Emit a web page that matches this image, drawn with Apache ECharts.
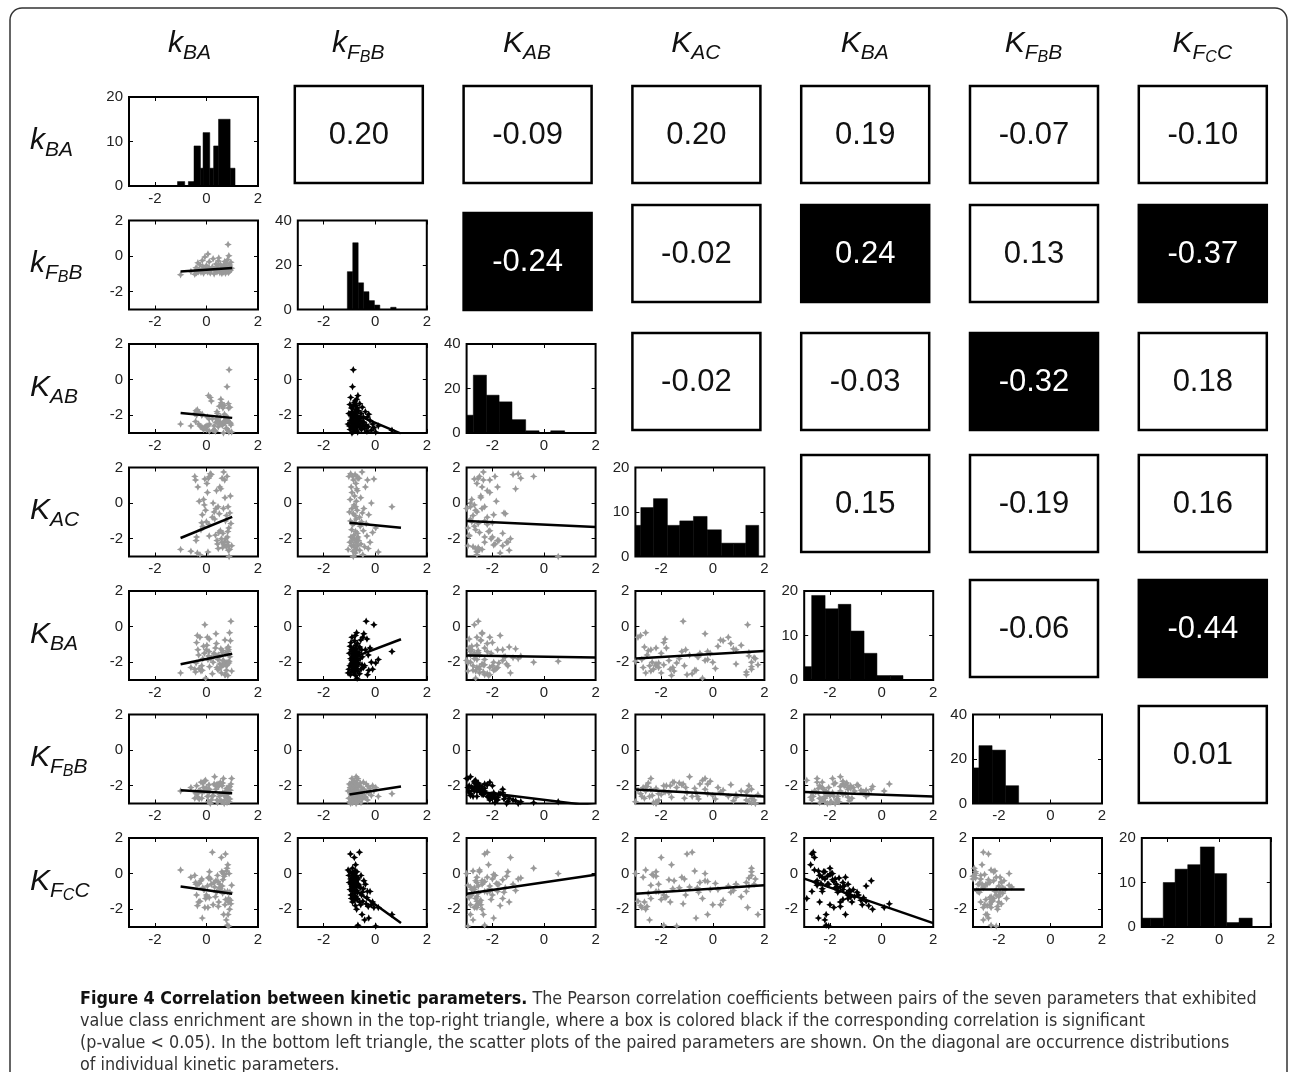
<!DOCTYPE html>
<html><head><meta charset="utf-8">
<script src="https://cdn.jsdelivr.net/npm/echarts@6.0.0/dist/echarts.min.js"></script>
<style>html,body{margin:0;padding:0;background:#fff}#c{width:1290px;height:1072px}</style>
</head><body><div id="c"></div>
<script>
// ---------------- DATA ----------------
const paramNames = ['k_BA', 'k_FBB', 'K_AB', 'K_AC', 'K_BA', 'K_FBB', 'K_FCC'];
const paramLabels = ['{m|k}{s|BA}', '{m|k}{s|F}{ss|B}{s|B}', '{m|K}{s|AB}', '{m|K}{s|AC}', '{m|K}{s|BA}', '{m|K}{s|F}{ss|B}{s|B}', '{m|K}{s|F}{ss|C}{s|C}'];

// per-sample parameter values (log10 scale), index-aligned samples
const kBA = [-1.0,-0.45,0.3,0.6,-0.11,0.74,0.15,-0.38,0.52,0.86,-0.21,0.04,0.66,0.41,-0.3,0.8,0.1,
  -0.6,0.5,0.88,-0.42,0.35,0.7,-0.08,0.58,0.93,-0.18,0.63,0.19,0.78,-0.35,0.45,0.83,0.02,0.69,0.32,-0.28,0.9,0.56,0.12,0.75,-0.03,0.64,0.39,0.98,0.08,0.81,
  -0.4,0.61,0.23,0.85,-0.14,0.72,0.43,0.0,0.67,0.91,-0.25,0.54,
  0.37,0.77,-0.33,0.95,0.11,0.71,0.46,-0.16, 0.82,0.26,0.48,-0.06, 0.87,0.06, 0.84];
const kFBB = [-1.05,-1.02,-1.0,-0.98,-0.97,-0.96,-0.95,-0.94,-0.93,-0.92,-0.91,-0.9,-0.9,-0.89,-0.88,-0.88,-0.87,
  -0.86,-0.85,-0.85,-0.84,-0.83,-0.83,-0.82,-0.81,-0.8,-0.8,-0.79,-0.78,-0.78,-0.77,-0.76,-0.76,-0.75,-0.74,-0.74,-0.73,-0.72,-0.72,-0.71,-0.7,-0.7,-0.69,-0.69,-0.68,-0.67,-0.67,
  -0.65,-0.63,-0.61,-0.6,-0.58,-0.56,-0.55,-0.53,-0.51,-0.5,-0.48,-0.46,
  -0.44,-0.41,-0.38,-0.35,-0.32,-0.3,-0.27,-0.25, -0.2,-0.15,-0.1,-0.05, 0.02,0.12, 0.65];
const KAB = [-2.5,-1.9,-2.6,-1.4,-2.8,-2.3,-1.0,-2.0,-2.4,-1.6,-2.65,-2.1,-3.0,-1.8,-2.5,-0.4,-2.2,
  -2.6,-1.5,0.55,-2.35,-2.9,-1.95,-2.7,-1.3,-2.45,-2.0,-2.55,-1.2,-2.75,-1.7,-2.3,-2.15,-2.6,-1.45,-2.85,-1.85,-2.4,-1.1,-2.5,-2.05,-2.65,-1.6,-2.2,-2.95,-0.9,-2.3,
  -1.75,-2.55,-2.2,-1.35,-2.7,-2.45,-1.9,-2.8,-2.35,-1.55,-2.6,-2.1,
  -2.4,-2.75,-1.8,-2.55,-2.9,-2.1,-2.65,-1.95, -2.3,-2.85,-2.5,-2.7, -2.95,-2.6, -2.85];
const KAC = [-2.6,1.5,-0.5,-2.2,0.2,-1.0,1.65,-1.9,0.9,-2.4,-1.5,0.6,-0.3,-2.1,-3.1,1.5,-1.2,
  -2.7,-0.6,-3.0,1.3,-1.8,-2.35,-0.1,-2.0,0.4,-1.1,-2.5,1.6,-0.7,-2.8,-0.2,-1.6,1.1,-2.2,-0.9,0.1,-2.6,0.8,1.5,-2.0,-0.4,-1.7,0.7,-2.4,1.4,-1.9,
  -2.1,1.4,-0.8,-2.65,-1.3,0.3,-2.3,-1.05,1.75,-0.55,-2.9,-1.55,
  -0.3,-2.45,0.9,-1.15,-1.85,1.3,-2.55,-0.65, -2.2,0.0,-1.65,1.35, -1.4,-2.75, -0.2];
const KBA = [-2.6,-2.4,-1.5,-2.2,-1.1,-2.7,-1.8,-0.9,-2.1,-1.3,-2.5,-0.6,-1.9,-2.3,-1.6,-2.0,-1.4,
  -2.3,-1.7,-1.95,-2.55,-1.2,-2.0,-1.5,-2.6,-0.8,-2.2,-1.35,-1.75,-2.45,-0.5,-1.85,-2.75,-1.05,-2.1,-1.6,-2.35,-0.35,-1.25,-2.25,-1.5,-2.9,-1.9,-0.95,-2.5,-1.65,-2.15,
  -2.05,-1.45,-2.65,-1.15,-1.8,-0.75,-2.4,-1.3,-2.15,-1.7,-0.6,-2.3,
  -0.4,-2.2,-1.3,0.3,-0.7,-2.7,-1.6,-2.45, -1.2,-2.0,-2.4,0.1, -2.05,-1.85, -1.4];
const KFBB = [-2.3,-2.7,-1.9,-2.9,-2.1,-2.4,-3.0,-2.0,-2.5,-2.2,-1.8,-2.6,-1.6,-2.8,-2.3,-2.95,-1.95,
  -2.1,-2.6,-2.9,-2.35,-2.0,-2.55,-1.75,-3.05,-2.25,-2.7,-1.85,-2.8,-2.15,-2.45,-1.9,-2.65,-2.3,-3.0,-1.5,-2.75,-2.05,-2.85,-2.2,-2.5,-1.7,-2.4,-1.95,-1.6,-2.9,-2.3,
  -2.45,-2.0,-2.6,-2.7,-1.85,-2.35,-2.95,-2.1,-2.5,-2.75,-2.25,-1.8,
  -2.2,-2.6,-2.65,-1.9,-2.35,-2.8,-2.05,-2.4, -2.15,-2.55,-2.0,-2.3, -2.1,-2.6, -2.45];
const KFCC = [0.2,-0.1,-0.5,0.1,-0.9,1.1,-0.3,-1.2,-0.6,-1.4,-0.4,-0.7,0.0,-1.0,-1.6,0.3,-0.2,
  -0.2,-0.8,0.0,-0.5,-1.3,-0.05,-0.9,0.9,-1.5,-0.3,-1.1,-0.6,0.15,-1.8,-0.45,0.5,-1.3,-0.15,-0.75,-0.55,-2.0,-0.95,0.1,-1.45,-1.4,-0.35,-1.05,-0.65,-0.25,-2.9,
  -0.6,-0.7,1.2,-1.6,-0.8,-1.75,-0.1,-1.2,-2.3,-1.05,-1.55,-0.85,
  -0.4,-2.6,-0.6,-1.7,-1.35,-1.0,-1.85,-2.5, -1.0,-1.75,-1.6,-1.9, -2.95,-1.9, -2.3];

// histogram bin edges and counts (diagonal)
const histEdges_kBA = [-1.12,-0.84,-0.70,-0.48,-0.23,-0.13,0.13,0.28,0.47,0.92,1.11];
const histCounts_kBA = [1,0,1,9,4,12,4,9,15,4];
const histEdges_kFBB = [-1.08,-0.87,-0.66,-0.45,-0.24,-0.03,0.18,0.39,0.60,0.81];
const histCounts_kFBB = [17,30,12,8,4,2,0,0,1];
const histEdges_KAB = [-3,-2.74,-2.23,-1.74,-1.24,-0.71,-0.19,0.26,0.80];
const histCounts_KAB = [8,26,17,14,6,1,0,1];
const histEdges_KAC = [-3,-2.79,-2.30,-1.76,-1.28,-0.75,-0.22,0.33,0.80,1.28,1.78];
const histCounts_KAC = [7,11,13,7,8,9,6,3,3,7];
const histEdges_KBA = [-3,-2.71,-2.19,-1.68,-1.19,-0.68,-0.18,0.34,0.83];
const histCounts_KBA = [3,19,16,17,11,6,1,1];
const histEdges_KFBB = [-3,-2.77,-2.26,-1.74,-1.23];
const histCounts_KFBB = [16,26,24,8];
const histEdges_KFCC = [-3,-2.67,-2.17,-1.71,-1.22,-0.73,-0.19,0.29,0.77,1.28];
const histCounts_KFCC = [2,2,10,13,14,18,12,1,2];
const histYMax = [20,40,40,20,20,40,20];

// regression line: x range per parameter, y at start/end for each lower-triangle pair (row-major)
const fitXMin = [-1,-1,-3,-3,-3,-3,-3];
const fitXMax = [1,1,2,2,2,-1,2];
const fitYStart = [-0.87,-1.88,-1.81,-1.96,-1.10,-1.01,-2.11,-1.81,-1.62,-1.79,-2.26,-2.49,-2.26,-2.22,-2.35,-0.72,-0.70,-1.13,-1.13,-0.28,-0.89];
const fitYEnd = [-0.67,-2.15,-3.03,-0.77,-1.38,-1.34,-1.53,-0.71,-1.73,-1.37,-2.42,-2.04,-3.15,-2.60,-2.60,-1.13,-2.78,-0.06,-0.66,-2.78,-0.89];

// Pearson correlations, upper triangle row-major, and significance (p < 0.05)
const corrValues = [0.20,-0.09,0.20,0.19,-0.07,-0.10, -0.24,-0.02,0.24,0.13,-0.37, -0.02,-0.03,-0.32,0.18, 0.15,-0.19,0.16, -0.06,-0.44, 0.01];
const corrSignificant = [0,0,0,0,0,0, 1,0,1,0,1, 0,0,1,0, 0,0,0, 0,1, 0];

const axisTicks = [-2, 0, 2];

// ---------------- LAYOUT ----------------
const samples = [kBA, kFBB, KAB, KAC, KBA, KFBB, KFCC];
const histEdges = [histEdges_kBA, histEdges_kFBB, histEdges_KAB, histEdges_KAC, histEdges_KBA, histEdges_KFBB, histEdges_KFCC];
const histCounts = [histCounts_kBA, histCounts_kFBB, histCounts_KAB, histCounts_KAC, histCounts_KBA, histCounts_KFBB, histCounts_KFCC];

const LEFT0 = 129, COLSTEP = 168.8, TOP0 = 97, ROWSTEP = 123.5, PW = 129, PH = 89;
const BOX_TOPS = [86, 205, 333, 455, 580, 706];
const FONT = "'Liberation Sans', Arial, Helvetica, sans-serif";
const CAP_FONT = "'Liberation Sans Narrow', 'DejaVu Sans Condensed', 'Liberation Sans', sans-serif";

const grids = [], xAxes = [], yAxes = [], series = [];
const tickStyle = {show: true, inside: true, length: 4, lineStyle: {color: '#000', width: 1}};
const labelStyle = {fontFamily: FONT, fontSize: 15, color: '#222'};
const noLine = {show: false, onZero: false};

function addPlot(i, j, yMax) {
  const gi = grids.length;
  grids.push({left: LEFT0 + COLSTEP * j, top: TOP0 + ROWSTEP * i, width: PW, height: PH,
    show: true, borderColor: '#000', borderWidth: 2, backgroundColor: '#fff', containLabel: false, outerBoundsMode: 'none'});
  const xi = xAxes.length;
  xAxes.push({gridIndex: gi, type: 'value', min: -3, max: 2, position: 'bottom',
    axisLine: noLine, splitLine: {show: false},
    axisTick: Object.assign({}, tickStyle, {customValues: axisTicks}),
    axisLabel: Object.assign({}, labelStyle, {margin: 5, customValues: axisTicks})});
  xAxes.push({gridIndex: gi, type: 'value', min: -3, max: 2, position: 'top',
    axisLine: noLine, splitLine: {show: false},
    axisTick: Object.assign({}, tickStyle, {customValues: axisTicks}), axisLabel: {show: false}});
  const yi = yAxes.length;
  let yOpt;
  if (yMax) {
    yOpt = {min: 0, max: yMax, interval: yMax / 2};
  } else {
    yOpt = {min: -3, max: 2};
  }
  const yTick = yMax ? Object.assign({}, tickStyle) : Object.assign({}, tickStyle, {customValues: axisTicks});
  const yLab = yMax ? Object.assign({}, labelStyle, {margin: 6}) : Object.assign({}, labelStyle, {margin: 6, customValues: axisTicks});
  yAxes.push(Object.assign({gridIndex: gi, type: 'value', position: 'left',
    axisLine: noLine, splitLine: {show: false}, axisTick: yTick, axisLabel: yLab}, yOpt));
  yAxes.push(Object.assign({gridIndex: gi, type: 'value', position: 'right',
    axisLine: noLine, splitLine: {show: false}, axisTick: yTick, axisLabel: {show: false}}, yOpt));
  return {xi, yi};
}

function addBox(i, j, value, sig) {
  const gi = grids.length;
  let top = BOX_TOPS[i];
  if (i === 1 && j === 2) top += 8;
  grids.push({left: LEFT0 + COLSTEP * j - 3, top: top, width: 128, height: 97, show: false, containLabel: false, outerBoundsMode: 'none'});
  const xi = xAxes.length, yi = yAxes.length;
  xAxes.push({gridIndex: gi, type: 'value', min: 0, max: 1, show: false});
  yAxes.push({gridIndex: gi, type: 'value', min: 0, max: 1, show: false});
  series.push({type: 'custom', xAxisIndex: xi, yAxisIndex: yi, silent: true,
    data: [[0, 0, 1, 1, value, sig]],
    renderItem: function (params, api) {
      const a = api.coord([api.value(0), api.value(1)]);
      const b = api.coord([api.value(2), api.value(3)]);
      const v = api.value(4), s = api.value(5);
      return {type: 'group', children: [
        {type: 'rect', shape: {x: a[0], y: b[1], width: b[0] - a[0], height: a[1] - b[1]},
          style: {fill: s ? '#000' : '#fff', stroke: '#000', lineWidth: 2.5}},
        {type: 'text', x: (a[0] + b[0]) / 2, y: (a[1] + b[1]) / 2 + 1,
          style: {text: v.toFixed(2), align: 'center', verticalAlign: 'middle',
            fill: s ? '#fff' : '#111', fontSize: 31, fontFamily: FONT}}
      ]};
    }});
}

const MARK = 'path://M4,0L5.3,2.7L8,4L5.3,5.3L4,8L2.7,5.3L0,4L2.7,2.7Z';
let lowerIdx = 0, upperIdx = 0;
const upperMap = {};
for (let i = 0; i < 7; i++) for (let j = i + 1; j < 7; j++) upperMap[i + '-' + j] = upperIdx++;

for (let i = 0; i < 7; i++) {
  for (let j = 0; j < 7; j++) {
    if (i === j) {
      const ax = addPlot(i, j, histYMax[i]);
      const edges = histEdges[i], counts = histCounts[i];
      series.push({type: 'custom', xAxisIndex: ax.xi, yAxisIndex: ax.yi, silent: true,
        data: counts.map((c, k) => [edges[k], edges[k + 1], c]),
        encode: {x: [0, 1], y: 2},
        renderItem: function (params, api) {
          const p0 = api.coord([api.value(0), 0]);
          const p1 = api.coord([api.value(1), api.value(2)]);
          return {type: 'rect', shape: {x: p0[0], y: p1[1], width: p1[0] - p0[0], height: p0[1] - p1[1]},
            style: {fill: '#000', stroke: '#000', lineWidth: 0.5}};
        }});
    } else if (i > j) {
      const ax = addPlot(i, j, 0);
      const k = upperMap[j + '-' + i];
      const sig = corrSignificant[k];
      const pts = samples[j].map((x, s) => [x, samples[i][s]]);
      series.push({type: 'scatter', xAxisIndex: ax.xi, yAxisIndex: ax.yi, data: pts, silent: true,
        symbol: MARK, symbolSize: 7.5, clip: true,
        itemStyle: {color: sig ? '#000' : '#999', opacity: 1}});
      series.push({type: 'line', xAxisIndex: ax.xi, yAxisIndex: ax.yi, silent: true, z: 5,
        data: [[fitXMin[j], fitYStart[lowerIdx]], [fitXMax[j], fitYEnd[lowerIdx]]],
        symbol: 'none', clip: true, lineStyle: {color: '#000', width: 2.5}});
      lowerIdx++;
    } else {
      const k = upperMap[i + '-' + j];
      addBox(i, j, corrValues[k], corrSignificant[k]);
    }
  }
}

// ---------------- TEXT ----------------
const RICH = {
  m: {fontSize: 30, fontStyle: 'italic', fontFamily: FONT, lineHeight: 32, verticalAlign: 'top', fill: '#111'},
  s: {fontSize: 21, fontStyle: 'italic', fontFamily: FONT, lineHeight: 21, padding: [14, 0, 0, 0], verticalAlign: 'top', fill: '#111'},
  ss: {fontSize: 16, fontStyle: 'italic', fontFamily: FONT, lineHeight: 16, padding: [21, 0, 0, 0], verticalAlign: 'top', fill: '#111'}
};
const graphics = [];
graphics.push({type: 'rect', silent: true, shape: {x: 10, y: 8, width: 1277, height: 1120, r: 12},
  style: {fill: 'none', stroke: '#333', lineWidth: 1.5}});
for (let j = 0; j < 7; j++) {
  graphics.push({type: 'text', silent: true, x: LEFT0 + COLSTEP * j + PW / 2 - 4, y: 45,
    style: {text: paramLabels[j], rich: RICH, align: 'center', verticalAlign: 'middle'}});
}
for (let i = 0; i < 7; i++) {
  graphics.push({type: 'text', silent: true, x: 30, y: TOP0 + ROWSTEP * i + PH / 2,
    style: {text: paramLabels[i], rich: RICH, align: 'left', verticalAlign: 'middle'}});
}
const captionText = '{b|Figure 4 Correlation between kinetic parameters.} The Pearson correlation coefficients between pairs of the seven parameters that exhibited\n' +
  'value class enrichment are shown in the top-right triangle, where a box is colored black if the corresponding correlation is significant\n' +
  '(p-value < 0.05). In the bottom left triangle, the scatter plots of the paired parameters are shown. On the diagonal are occurrence distributions\n' +
  'of individual kinetic parameters.';
graphics.push({type: 'text', silent: true, x: 80, y: 989,
  style: {text: captionText, fontSize: 17.8, fontFamily: CAP_FONT, lineHeight: 21.7, fill: '#333', align: 'left', verticalAlign: 'top',
    rich: {b: {fontSize: 17.8, fontFamily: CAP_FONT, fontWeight: 'bold', lineHeight: 21.7, fill: '#111'}}}});

const chart = echarts.init(document.getElementById('c'), null, {renderer: 'canvas', width: 1290, height: 1072});
chart.setOption({
  animation: false,
  backgroundColor: '#fff',
  grid: grids, xAxis: xAxes, yAxis: yAxes, series: series, graphic: graphics
});
</script>
</body></html>
